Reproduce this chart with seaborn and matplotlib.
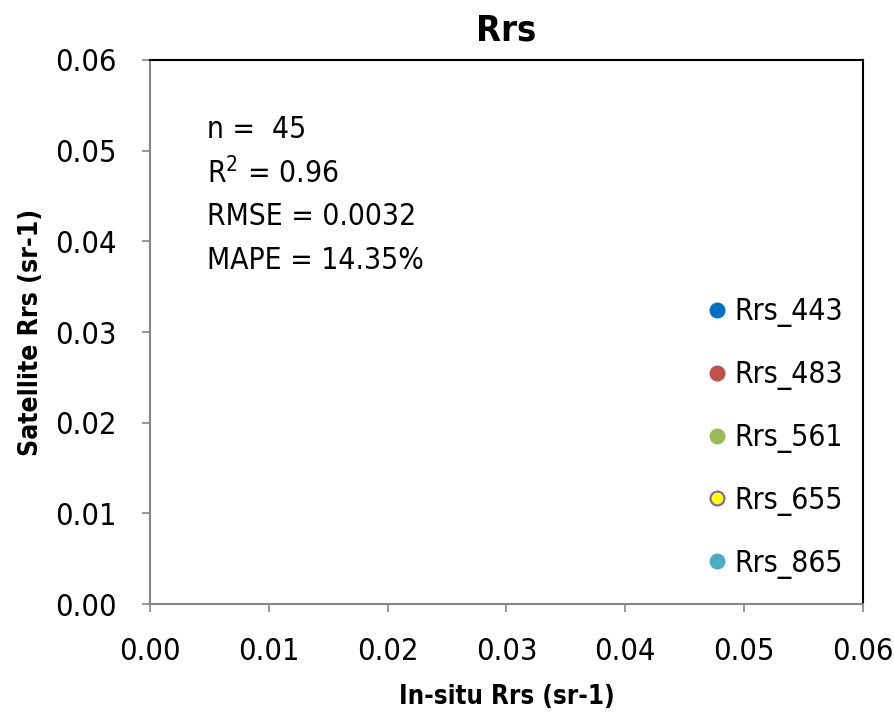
import matplotlib
matplotlib.use("Agg")
import matplotlib.pyplot as plt
import seaborn as sns
import pandas as pd

sns.set_theme(style="white")
plt.rcParams['font.family'] = ['DejaVu Sans']
plt.rcParams['font.stretch'] = 'condensed'
plt.rcParams['text.color'] = 'black'
plt.rcParams['axes.labelcolor'] = 'black'

# Data (no points visible in the reference; series shown only in legend)
series_names = ["Rrs_443", "Rrs_483", "Rrs_561", "Rrs_655", "Rrs_865"]
insitu_vals = {name: [] for name in series_names}
satellite_vals = {name: [] for name in series_names}
face_colors = ["#0070C0", "#C0504D", "#9BBB59", "#FFFF00", "#4BACC6"]
edge_colors = ["#0070C0", "#C0504D", "#9BBB59", "#8064A2", "#4BACC6"]

ticks = [0.00, 0.01, 0.02, 0.03, 0.04, 0.05, 0.06]
tick_labels = ["0.00", "0.01", "0.02", "0.03", "0.04", "0.05", "0.06"]
stats_lines = ["n =  45", "R$^2$ = 0.96", "RMSE = 0.0032", "MAPE = 14.35%"]

fig = plt.figure(figsize=(8.94, 7.15), dpi=100)
ax = fig.add_axes([0.1678, 0.1552, 0.7975, 0.7609])

for name, fc, ec in zip(series_names, face_colors, edge_colors):
    df = pd.DataFrame({"x": insitu_vals[name], "y": satellite_vals[name]}, dtype=float)
    ax.plot(df["x"], df["y"], linestyle="none", marker="o", markersize=10,
            markerfacecolor=fc, markeredgecolor=ec, markeredgewidth=1.5, label=name)

ax.set_xlim(0, 0.06)
ax.set_ylim(0, 0.06)
ax.set_xticks(ticks)
ax.set_xticklabels(tick_labels)
ax.set_yticks(ticks)
ax.set_yticklabels(tick_labels)
ax.tick_params(axis="both", labelsize=22, direction="out", length=6, width=1.2,
               color="#868686", labelcolor="black")
ax.tick_params(axis="x", pad=18, bottom=True)
ax.tick_params(axis="y", pad=18, left=True)

for side in ["top", "right"]:
    ax.spines[side].set_color("black")
    ax.spines[side].set_linewidth(1.5)
for side in ["left", "bottom"]:
    ax.spines[side].set_color("#868686")
    ax.spines[side].set_linewidth(1.5)

ax.set_title("Rrs", fontsize=26, fontweight="bold", pad=14)
ax.set_xlabel("In-situ Rrs (sr-1)", fontsize=18.5, fontweight="bold", labelpad=13)
ax.set_ylabel("Satellite Rrs (sr-1)", fontsize=19, fontweight="bold", labelpad=8)

y0 = 0.0523
for i, line in enumerate(stats_lines):
    ax.text(0.0048, y0 - i * 0.0048, line, fontsize=21.5, va="center", ha="left")

leg = ax.legend(loc="center left", bbox_to_anchor=(0.755, 0.305), frameon=False,
                fontsize=21.5, labelspacing=1.1, handletextpad=0.05, handlelength=1.1,
                borderaxespad=0)

fig.savefig("out.png", dpi=100)
